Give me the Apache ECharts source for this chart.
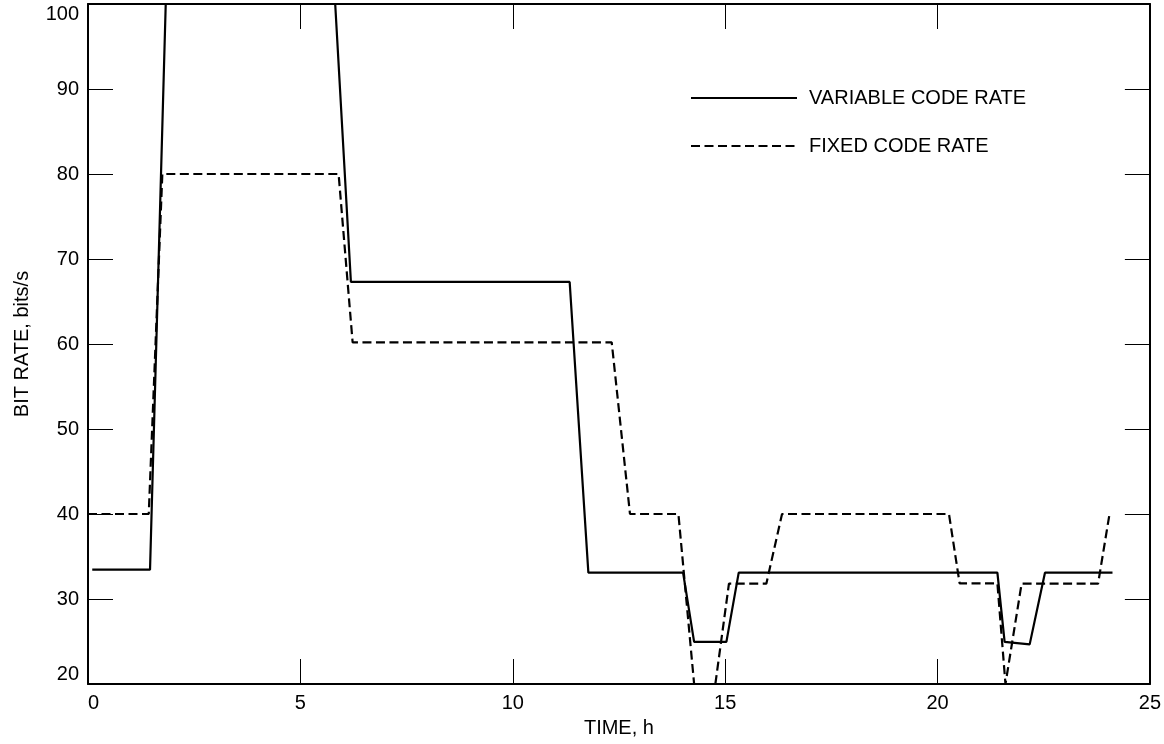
<!DOCTYPE html>
<html>
<head>
<meta charset="utf-8">
<script src="https://cdn.jsdelivr.net/npm/echarts@6/dist/echarts.min.js"></script>
<style>html,body{margin:0;padding:0;background:#fff}#c{width:1164px;height:744px}</style>
</head>
<body>
<div id="c"></div>
<script>
// Axis settings
const xTicks = [0, 5, 10, 15, 20, 25];
const yTicks = [20, 30, 40, 50, 60, 70, 80, 90, 100];
const seriesNames = ['VARIABLE CODE RATE', 'FIXED CODE RATE'];

// VARIABLE CODE RATE (solid) - time (h), bit rate (bits/s); null = off-chart gap
const varTime = [0.1, 1.46, 1.83, null, 5.82, 6.19, 11.34, 11.78, 14.01, 14.27, 15.03, 15.32, 21.41, 21.58, 22.17, 22.53, 24.12];
const varRate = [33.45, 33.45, 100, null, 100, 67.3, 67.3, 33.1, 33.1, 24.95, 24.95, 33.1, 33.1, 24.95, 24.66, 33.1, 33.1];

// FIXED CODE RATE (dashed)
const fixTime = [0, 1.43, 1.75, 5.9, 6.23, 12.33, 12.76, 13.9, 14.27, null, 14.77, 15.09, 15.97, 16.34, 20.27, 20.52, 21.41, 21.6, 21.98, 23.78, 24.05];
const fixRate = [40, 40, 80, 80, 60.2, 60.2, 40, 40, 20, null, 20, 31.8, 31.8, 40, 40, 31.85, 31.85, 20, 31.8, 31.8, 40];

function pairs(xs, ys) {
  return xs.map((x, i) => (x === null || ys[i] === null) ? [null, null] : [x, ys[i]]);
}

const FONT = 'Liberation Sans, Arial, sans-serif';
const chart = echarts.init(document.getElementById('c'), null, {renderer: 'canvas'});
const axisLineStyle = {color: '#000', width: 2};
const tickStyle = {color: '#000', width: 1};

chart.setOption({
  animation: false,
  backgroundColor: '#fff',
  textStyle: {fontFamily: FONT, color: '#000'},
  grid: {left: 88, right: 11, top: 4, bottom: 60, containLabel: false},
  legend: {
    orient: 'vertical',
    left: 690,
    top: 88,
    padding: 0,
    itemWidth: 106,
    itemHeight: 20,
    itemGap: 28,
    itemStyle: {color: 'rgba(0,0,0,0)', borderColor: 'rgba(0,0,0,0)', borderWidth: 0},
    textStyle: {fontFamily: FONT, fontSize: 20, color: '#000', padding: [0, 0, 0, 7]},
    data: seriesNames
  },
  xAxis: [{
    type: 'value', min: xTicks[0], max: xTicks[xTicks.length - 1], interval: 5,
    name: 'TIME, h', nameLocation: 'middle', nameGap: 34,
    nameTextStyle: {fontFamily: FONT, fontSize: 20, color: '#000'},
    axisLine: {show: true, onZero: false, lineStyle: axisLineStyle},
    axisTick: {show: true, inside: true, length: 25, lineStyle: tickStyle},
    axisLabel: {fontFamily: FONT, fontSize: 20, color: '#000', margin: 9, alignMinLabel: 'left'},
    splitLine: {show: false}
  }, {
    type: 'value', position: 'top', min: xTicks[0], max: xTicks[xTicks.length - 1], interval: 5,
    axisLine: {show: true, onZero: false, lineStyle: axisLineStyle},
    axisTick: {show: true, inside: true, length: 25, lineStyle: tickStyle},
    axisLabel: {show: false}, splitLine: {show: false}
  }],
  yAxis: [{
    type: 'value', min: yTicks[0], max: yTicks[yTicks.length - 1], interval: 10,
    name: 'BIT RATE, bits/s', nameLocation: 'middle', nameGap: 56, nameRotate: 90,
    nameTextStyle: {fontFamily: FONT, fontSize: 20, color: '#000'},
    axisLine: {show: true, onZero: false, lineStyle: axisLineStyle},
    axisTick: {show: true, inside: true, length: 25, lineStyle: tickStyle},
    axisLabel: {fontFamily: FONT, fontSize: 20, color: '#000', margin: 9,
      verticalAlignMaxLabel: 'top', verticalAlignMinLabel: 'bottom'},
    splitLine: {show: false}
  }, {
    type: 'value', position: 'right', min: yTicks[0], max: yTicks[yTicks.length - 1], interval: 10,
    axisLine: {show: true, onZero: false, lineStyle: axisLineStyle},
    axisTick: {show: true, inside: true, length: 25, lineStyle: tickStyle},
    axisLabel: {show: false}, splitLine: {show: false}
  }],
  series: [{
    name: seriesNames[0], type: 'line', xAxisIndex: 0, yAxisIndex: 0,
    data: pairs(varTime, varRate), showSymbol: false, symbol: 'none',
    connectNulls: false, clip: true,
    lineStyle: {color: '#000', width: 2.2, type: 'solid'},
    itemStyle: {color: '#000'}
  }, {
    name: seriesNames[1], type: 'line', xAxisIndex: 0, yAxisIndex: 0,
    data: pairs(fixTime, fixRate), showSymbol: false, symbol: 'none',
    connectNulls: false, clip: true,
    lineStyle: {color: '#000', width: 2.2, type: [9, 4.5]},
    itemStyle: {color: '#000'}
  }]
});
</script>
</body>
</html>
